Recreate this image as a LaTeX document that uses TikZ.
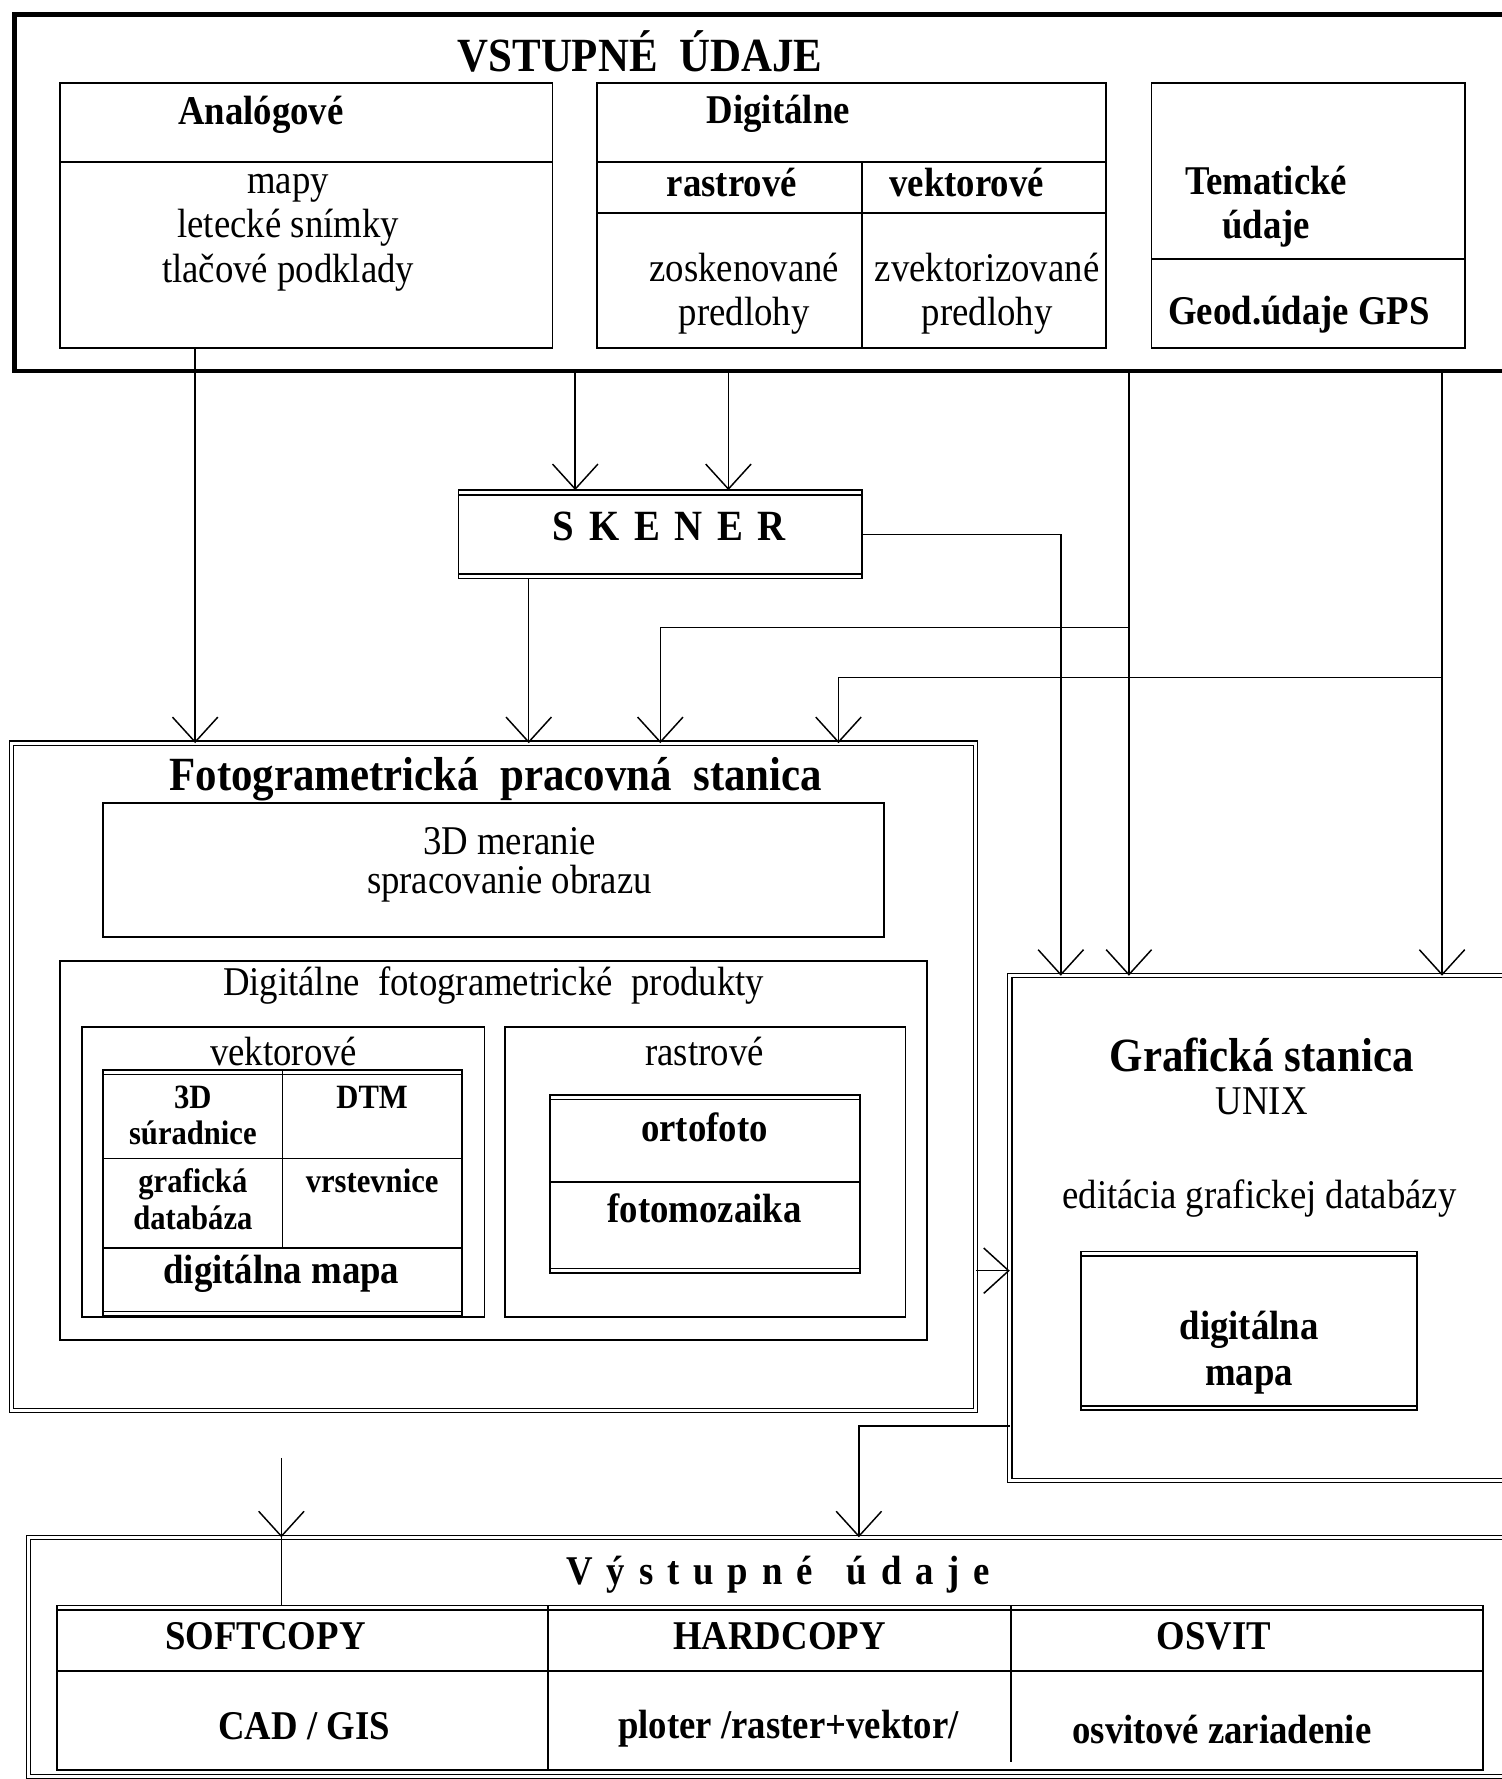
\documentclass[tikz,border=0pt]{standalone}
\usepackage{fontspec}
\setmainfont{Liberation Serif}[FakeStretch=0.9]
\newfontfamily\redko{Liberation Serif}[FakeStretch=0.9,LetterSpace=34]
\usetikzlibrary{arrows.meta}

\tikzset{
  ram/.style={draw, line width=1.5pt, inner sep=0pt, outer sep=0pt},
  hrubyram/.style={ram, line width=4pt},
  dvojram/.style={ram, double, line width=1.2pt, double distance=2.4pt},
  txt/.style={inner sep=0pt, align=center, font=\fontsize{36}{39}\selectfont},
  tucny/.style={txt, font=\fontsize{36}{39}\selectfont\bfseries},
  maly/.style={txt, font=\fontsize{30}{32}\selectfont\bfseries},
  nadpis/.style={txt, font=\fontsize{42}{46}\selectfont\bfseries},
  sipka/.style={line width=1.3pt, -{Straight Barb[length=22pt,width=40pt]}},
  ciara/.style={line width=1.3pt}
}

\begin{document}
\begin{tikzpicture}[x=1pt,y=-1pt]
\useasboundingbox (0,0) rectangle (1323,1568);
\fill[white] (0,0) rectangle (1323,1568);

\node[hrubyram, minimum width=1327, minimum height=314] (vstup) at (676.5,170) {};
\node[nadpis] (vstupT) at (564,45) {VSTUPNÉ\ \ ÚDAJE};

\node[ram, minimum width=434, minimum height=234] (analog) at (270,190) {};
\draw[ram] ([yshift=-70pt]analog.north west) -- ([yshift=-70pt]analog.north east);
\node[tucny] (analogT) at (230,101) {Analógové};
\node[txt] (analogC) at (254,205) {mapy\\letecké snímky\\tlačové podklady};

\node[ram, minimum width=449, minimum height=234] (digital) at (750.5,190) {};
\draw[ram] ([yshift=-70pt]digital.north west) -- ([yshift=-70pt]digital.north east);
\draw[ram] ([yshift=-115pt]digital.north west) -- ([yshift=-115pt]digital.north east);
\draw[ram] ([xshift=234pt,yshift=-70pt]digital.north west) -- ([xshift=234pt]digital.south west);
\node[tucny] (digitalT) at (686,100) {Digitálne};
\node[tucny] (rastT) at (645,161) {rastrové};
\node[tucny] (vektT) at (852,161) {vektorové};
\node[txt] (rastC) at (656,259) {zoskenované\\predlohy};
\node[txt] (vektC) at (870,259) {zvektorizované\\predlohy};

\node[ram, minimum width=276, minimum height=234] (tema) at (1153,190) {};
\draw[ram] ([yshift=-155pt]tema.north west) -- ([yshift=-155pt]tema.north east);
\node[tucny] (temaT) at (1116,182) {Tematické\\údaje};
\node[tucny] (gps) at (1145,277) {Geod.údaje GPS};

\node[ram, minimum width=356, minimum height=78] (skener) at (582,471) {};
\node[txt, font=\redko\bfseries\fontsize{38}{40}\selectfont] (skenerT) at (590,464) {SKENER};

\node[dvojram, minimum width=850, minimum height=588] (foto) at (435,949) {};
\node[nadpis] (fotoT) at (437,687) {Fotogrametrická\ \ pracovná\ \ stanica};
\node[ram, minimum width=688, minimum height=118] (meranie) at (435,767) {};
\node[txt, font=\fontsize{36}{34}\selectfont] (meranieT) at (449,762) {3D meranie\\spracovanie obrazu};

\node[ram, minimum width=764, minimum height=334] (produkty) at (435,1014) {};
\node[txt] (produktyT) at (435,869) {Digitálne\ \ fotogrametrické\ \ produkty};

\node[ram, minimum width=355, minimum height=256] (vekt) at (249.5,1033) {};
\node[txt] (vektT2) at (250,927) {vektorové};
\node[ram, minimum width=316, minimum height=217] (vtab) at (249,1051.5) {};
\draw[ram] ([xshift=158pt]vtab.north west) -- ([xshift=158pt,yshift=-157pt]vtab.north west);
\draw[ram] ([yshift=-78pt]vtab.north west) -- ([yshift=-78pt]vtab.north east);
\draw[ram] ([yshift=-157pt]vtab.north west) -- ([yshift=-157pt]vtab.north east);
\node[maly] (c3d) at (170,983) {3D\\súradnice};
\node[maly] (cdtm) at (328,967) {DTM};
\node[maly] (cgraf) at (170,1057) {grafická\\databáza};
\node[maly] (cvrst) at (328,1041) {vrstevnice};
\node[tucny] (cmapa) at (248,1123) {digitálna mapa};

\node[ram, minimum width=353, minimum height=256] (rast) at (621.5,1033) {};
\node[txt] (rastT2) at (621,927) {rastrové};
\node[ram, minimum width=273, minimum height=157] (rtab) at (621.5,1043.5) {};
\draw[ram] ([yshift=-77pt]rtab.north west) -- ([yshift=-77pt]rtab.north east);
\node[tucny] (orto) at (621,994) {ortofoto};
\node[tucny] (mozaika) at (621,1065) {fotomozaika};

\node[dvojram, minimum width=450, minimum height=445] (graf) at (1115,1082.5) {};
\node[nadpis] (grafT) at (1112,930) {Grafická stanica};
\node[txt] (unix) at (1112,971) {UNIX};
\node[txt] (edit) at (1110,1056) {editácia grafickej databázy};
\node[ram, minimum width=296, minimum height=140] (gmapa) at (1101,1173) {};
\node[tucny, font=\fontsize{36}{41}\selectfont\bfseries] (gmapaT) at (1101,1192) {digitálna\\mapa};

\node[dvojram, minimum width=1315, minimum height=211] (vystup) at (682.5,1460.5) {};
\node[txt, font=\redko\bfseries\fontsize{36}{40}\selectfont] (vystupT) at (686,1388) {Výstupné\hspace{30pt}údaje};
\node[ram, minimum width=1257, minimum height=145] (otab) at (678.5,1487.5) {};
\draw[ram] ([yshift=-58pt]otab.north west) -- ([yshift=-58pt]otab.north east);
\draw[ram] ([xshift=433pt]otab.north west) -- ([xshift=433pt]otab.south west);
\draw[ram] ([xshift=841pt]otab.north west) -- ([xshift=841pt,yshift=7pt]otab.south west);
\node[tucny] (soft) at (234,1442) {SOFTCOPY};
\node[tucny] (hard) at (687,1442) {HARDCOPY};
\node[tucny] (osvit) at (1070,1442) {OSVIT};
\node[tucny] (cad) at (268,1521) {CAD / GIS};
\node[tucny] (ploter) at (695,1524) {ploter /raster+vektor/};
\node[tucny] (osvitZ) at (1077,1524) {osvitové zariadenie};

\foreach \t in {skener,vtab,rtab,gmapa,otab}
  \draw[ram] ([yshift=-4pt]\t.north west) -- ([yshift=-4pt]\t.north east);
\foreach \t in {skener,vtab,rtab,gmapa}
  \draw[ram] ([yshift=4pt]\t.south west) -- ([yshift=4pt]\t.south east);

\coordinate (xa) at (172,0);
\coordinate (xb) at (507,0);
\coordinate (xc) at (642,0);
\coordinate (xd) at (995,0);
\coordinate (xe) at (1271,0);
\coordinate (xf) at (935,0);
\coordinate (xg) at (466,0);
\coordinate (xh) at (582,553);
\coordinate (xi) at (739,597);
\coordinate (xj) at (757,1257);
\coordinate (yd) at (0,1120);
\coordinate (s1) at (248,1285);

\draw[sipka] (analog.south -| xa) -- (foto.north -| xa);
\draw[sipka] (vstup.south -| xb) -- (skener.north -| xb);
\draw[sipka] (vstup.south -| xc) -- (skener.north -| xc);
\draw[sipka] (vstup.south -| xd) -- (graf.north -| xd);
\draw[sipka] (vstup.south -| xe) -- (graf.north -| xe);
\draw[sipka] (skener.east) -| (graf.north -| xf);
\draw[sipka] (skener.south -| xg) -- (foto.north -| xg);
\draw[sipka] (xd |- xh) -| (foto.north -| xh);
\draw[sipka] (xe |- xi) -| (foto.north -| xi);
\draw[sipka] (foto.east |- yd) -- (graf.west |- yd);
\draw[sipka] (graf.west |- xj) -| (vystup.north -| xj);
\draw[sipka] (s1) -- (s1 |- vystup.north);
\draw[ciara] (s1 |- vystup.north) -- (s1 |- otab.north);
\end{tikzpicture}
\end{document}
